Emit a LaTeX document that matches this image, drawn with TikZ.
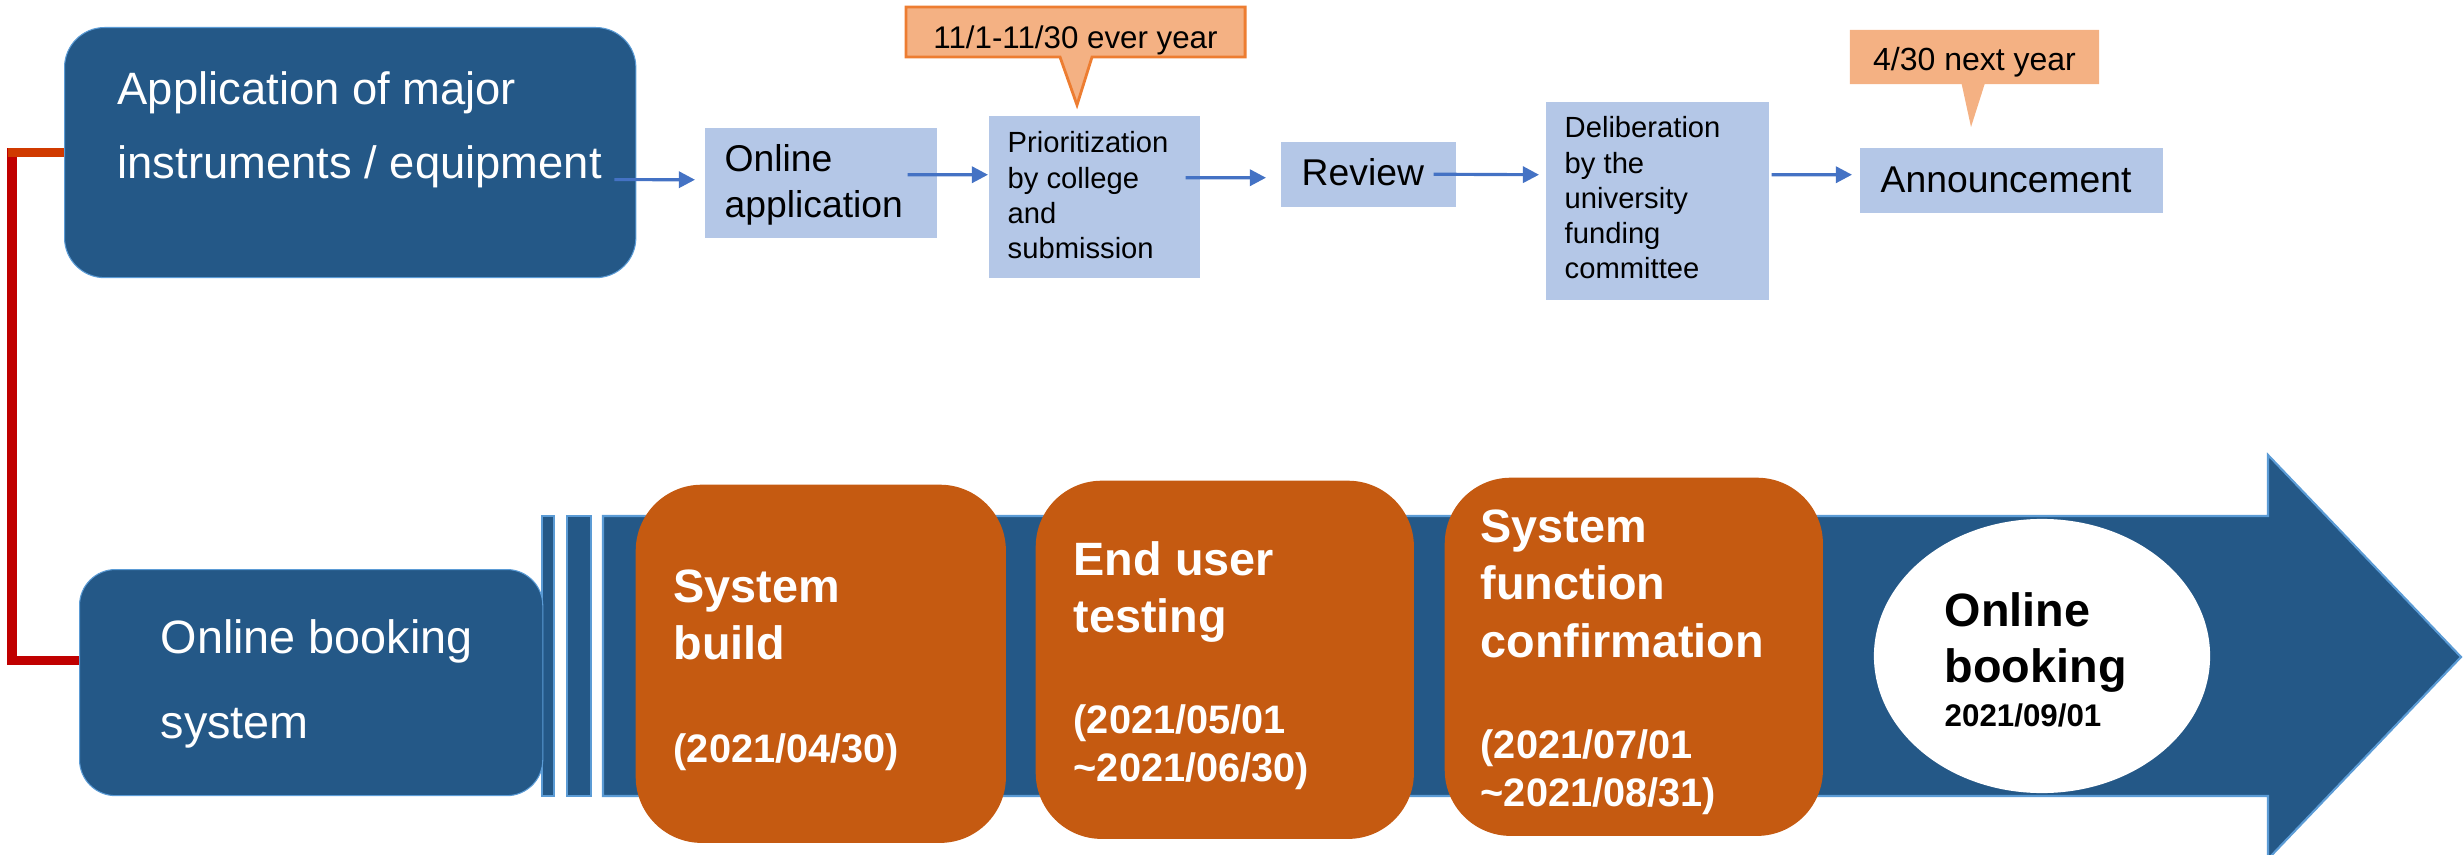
\documentclass[tikz,border=0pt]{standalone}
\usepackage{fontspec}
\setmainfont{Liberation Sans}
\usetikzlibrary{arrows.meta,shapes.geometric,shapes.callouts}
\definecolor{dblue}{HTML}{245887}
\definecolor{edgeblue}{HTML}{5B9BD5}
\definecolor{lblue}{HTML}{B4C7E7}
\definecolor{orng}{HTML}{C55A11}
\definecolor{peach}{HTML}{F4B183}
\definecolor{peachedge}{HTML}{ED7D31}
\definecolor{cblue}{HTML}{4472C4}
\definecolor{redline}{HTML}{C00000}
\definecolor{redtop}{HTML}{D03A00}
\newcommand\stk[2]{\vtop{\baselineskip=#1\lineskiplimit=-\maxdimen\halign{##\hfil\cr#2\crcr}}}
\newcommand\fs[1]{\fontsize{#1}{#1}\selectfont}
\begin{document}
\begin{tikzpicture}[x=0.01cm,y=-0.01cm,
  bbox/.style={fill=dblue, draw=edgeblue, line width=0.3pt, inner sep=0, anchor=north west},
  lbox/.style={fill=lblue, inner sep=0, anchor=north west},
  obox/.style={fill=orng, rounded corners=0.66cm, inner sep=0, anchor=north west, minimum width=3.78cm, minimum height=3.58cm},
  txt/.style={anchor=base west, inner sep=0},
  conn/.style={draw=cblue, line width=0.9pt, -{Triangle[length=4.6pt,width=4.6pt]}},
  arrowbody/.style={fill=dblue, draw=edgeblue, line width=0.6pt},
  callout/.style={rectangle callout, fill=peach, inner sep=0}]
\useasboundingbox (0,0) rectangle (2464,855);

% big timeline arrow
\draw[arrowbody] (603,516) -- (2268,516) -- (2268,455) -- (2461,657) -- (2268,859) -- (2268,796) -- (603,796) -- cycle;
\draw[arrowbody] (542,516) rectangle (554,796);
\draw[arrowbody] (567,516) rectangle (591,796);

% boxes
\node[bbox, rounded corners=0.4cm, minimum width=5.71cm, minimum height=2.50cm] (app) at (64,27) {};
\node[bbox, rounded corners=0.36cm, minimum width=4.63cm, minimum height=2.26cm] (obs) at (79,569) {};

% red connector
\draw[redline, line width=2.6pt] (app.west) -- ++(-52,0) |- ([yshift=0.22cm]obs.west);
\draw[redtop, line width=2.6pt] (app.west) -- ++(-56.5,0);

\node[lbox, minimum width=2.32cm, minimum height=1.10cm] (onl) at (704,127) {};
\node[lbox, minimum width=2.11cm, minimum height=1.62cm] (pri) at (988,115) {};
\node[lbox, minimum width=1.75cm, minimum height=0.65cm] (rev) at (1280,141) {};
\node[lbox, minimum width=2.23cm, minimum height=1.98cm] (del) at (1545,101) {};
\node[lbox, minimum width=3.03cm, minimum height=0.65cm] (ann) at (1859,147) {};

% callouts
\node[callout, draw=peachedge, line width=0.8pt, minimum width=3.39cm, minimum height=0.50cm,
  callout absolute pointer={(1077,105)}, callout pointer width=0.32cm,
  text height=0.36cm, text depth=0.04cm, font=\fs{8.9}] (c1) at (1075.5,32) {11/1-11/30 ever year};
\node[callout, minimum width=2.49cm, minimum height=0.54cm,
  callout absolute pointer={(1971,127)}, callout pointer width=0.23cm,
  text height=0.33cm, text depth=0.07cm, font=\fs{9.1}] (c2) at (1974.5,57) {4/30 next year};

% connectors
\draw[conn] ([xshift=-0.22cm,yshift=-0.27cm]app.east) -- ([xshift=-0.09cm,yshift=0.03cm]onl.west);
\draw[conn] ([xshift=-0.30cm,yshift=0.08cm]onl.east) -- ([yshift=0.22cm]pri.west);
\draw[conn] ([xshift=-0.15cm,yshift=0.19cm]pri.east) -- ([xshift=-0.14cm,yshift=-0.035cm]rev.west);
\draw[conn] ([xshift=-0.23cm]rev.east) -- ([xshift=-0.06cm,yshift=0.26cm]del.west);
\draw[conn] ([xshift=0.02cm,yshift=0.26cm]del.east) -- ([xshift=-0.07cm,yshift=0.055cm]ann.west);

% texts top row
\node[txt, text=white, font=\fs{12.9}] (appt) at (117,105) {\stk{20.8pt}{Application of major\cr instruments / equipment}};
\node[txt, font=\fs{10.6}] (onlt) at (724,172) {\stk{12.8pt}{Online\cr application}};
\node[txt, font=\fs{8.3}] (prit) at (1007,153) {\stk{10pt}{Prioritization\cr by college\cr and\cr submission}};
\node[txt, font=\fs{10.6}] (revt) at (1301,186) {Review};
\node[txt, font=\fs{8.3}] (delt) at (1564,138) {\stk{10pt}{Deliberation\cr by the\cr university\cr funding\cr committee}};
\node[txt, font=\fs{10.6}] (annt) at (1880,193) {Announcement};

% bottom row
\node[txt, text=white, font=\fs{13.3}] (obst) at (160,653) {\stk{24.2pt}{Online booking\cr system}};

\node[obox, minimum width=3.70cm] (o1) at (635,484) {};
\node[obox] (o2) at (1035,480) {};
\node[obox] (o3) at (1444,477) {};
\node[ellipse, fill=white, minimum width=3.36cm, minimum height=2.74cm, inner sep=0] (ob) at (2042,656) {};

\node[txt, text=white, font=\fs{13.3}\bfseries] (o1t) at (673,602) {\stk{16.4pt}{System\cr build}};
\node[txt, text=white, font=\fs{11.3}\bfseries] (o1d) at (673,762) {(2021/04/30)};
\node[txt, text=white, font=\fs{13.3}\bfseries] (o2t) at (1073,575) {\stk{16.4pt}{End user\cr testing}};
\node[txt, text=white, font=\fs{11.3}\bfseries] (o2d) at (1073,733) {\stk{13.9pt}{(2021/05/01\cr \textasciitilde 2021/06/30)}};
\node[txt, text=white, font=\fs{13.3}\bfseries] (o3t) at (1480,542) {\stk{16.4pt}{System\cr function\cr confirmation}};
\node[txt, text=white, font=\fs{11.3}\bfseries] (o3d) at (1480,758) {\stk{13.9pt}{(2021/07/01\cr \textasciitilde 2021/08/31)}};
\node[txt, font=\fs{13.3}\bfseries] (obt) at (1944,626) {\stk{16.2pt}{Online\cr booking}};
\node[txt, font=\fs{8.9}\bfseries] (obd) at (1944,726) {2021/09/01};
\end{tikzpicture}
\end{document}
